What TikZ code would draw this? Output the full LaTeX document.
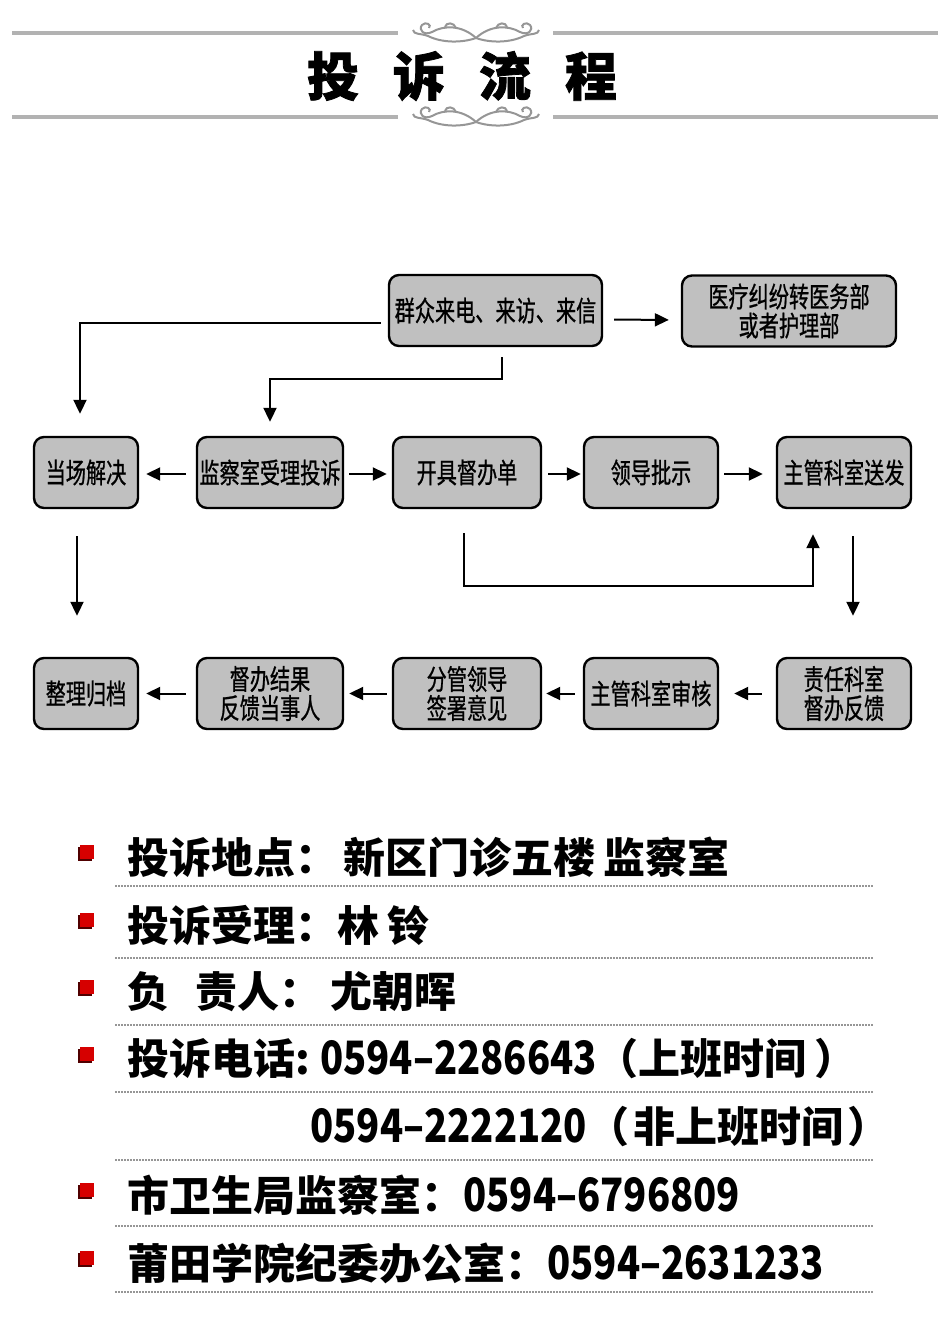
\documentclass[tikz,border=0pt]{standalone}
\usepackage{fontspec}
\usetikzlibrary{positioning,arrows.meta,shadows}

\newfontfamily\boxfont{Noto Sans CJK SC}[FakeStretch=0.72, FakeBold=0.8]
\newfontfamily\listfont{Noto Sans CJK SC}
\newfontfamily\numfont{Noto Sans CJK SC}[FakeStretch=0.83]
\newfontfamily\titlefont{Noto Sans CJK SC}[FakeBold=1.5]
\newcommand{\phone}[1]{{\numfont\bfseries\fontsize{23pt}{23pt}\selectfont #1}}

\definecolor{boxgray}{RGB}{192,192,192}
\definecolor{rulegray}{RGB}{178,178,178}
\definecolor{orngray}{RGB}{150,150,150}
\definecolor{dotgray}{RGB}{150,150,150}
\definecolor{bulletred}{RGB}{214,0,0}
\definecolor{bulletdark}{RGB}{80,0,0}

\tikzset{
  flowbox/.style={draw, line width=1.2pt, fill=boxgray, rounded corners=5pt,
    minimum height=35.5pt, inner sep=0pt, align=center,
    font=\boxfont\fontsize{14pt}{14.5pt}\selectfont},
  flowarrow/.style={line width=1pt, -{Triangle[length=7pt,width=6.5pt]}},
  rule/.style={rulegray, line width=2pt},
  orn/.style={orngray, line width=1pt},
  dotrule/.style={dotgray, line width=1.2pt, dash pattern=on 0.8pt off 0.7pt},
  bullet/.style={fill=bulletred, minimum size=7pt, inner sep=0pt,
    drop shadow={shadow xshift=-0.8pt, shadow yshift=-0.8pt, fill=bulletdark, opacity=1}},
  listline/.style={anchor=west, inner sep=0pt,
    font=\listfont\bfseries\fontsize{21pt}{21pt}\selectfont}
}

\newcommand{\titleorn}[1]{%
  \begin{scope}[shift={#1}]
    \foreach \s in {1,-1} {
      \begin{scope}[xscale=\s]
        \draw[orn] (0,5) .. controls (-14,-8) and (-32,-8) .. (-44,-1)
          .. controls (-52,3) and (-58,-3) .. (-54,-8)
          .. controls (-50,-12) and (-44,-8) .. (-47,-5);
        \draw[orn] (0,5) .. controls (-14,10) and (-34,10) .. (-48,3)
          .. controls (-56,0) and (-62,2) .. (-63,-3);
        \draw[orn] (-20,-5) .. controls (-22,-11) and (-30,-11) .. (-31,-6);
      \end{scope}
    }
  \end{scope}}

\begin{document}
\begin{tikzpicture}[x=0.5pt, y=-0.5pt]
    \path[use as bounding box, fill=white] (0,0) rectangle (950,1318);

    % Title with rules
    \draw[rule] (12,33) -- (398,33);
    \draw[rule] (553,33) -- (938,33);
    \draw[rule] (12,117) -- (398,117);
    \draw[rule] (553,117) -- (938,117);
    \titleorn{(476,33)}
    \titleorn{(476,117)}
    \node[font=\titlefont\bfseries\fontsize{26pt}{26pt}\selectfont] (title) at (462,76)
      {投\hspace{17pt}诉\hspace{17pt}流\hspace{17pt}程};

    % Boxes
    \foreach \name/\x/\y/\w/\txt in {
      qz/495.5/310.5/106.5/{群众来电、来访、来信},
      yl/789/311/107/{医疗纠纷转医务部\\或者护理部},
      dc/86/472.5/52/{当场解决},
      jc/270/472.5/73/{监察室受理投诉},
      kj/467/472.5/74/{开具督办单},
      ld/651/472.5/67/{领导批示},
      zs/844/472.5/67/{主管科室送发},
      zl/86/693.5/52/{整理归档},
      db/270/693.5/73/{督办结果\\反馈当事人},
      fg/467/693.5/74/{分管领导\\签署意见},
      zh/651/693.5/67/{主管科室审核},
      zr/844/693.5/67/{责任科室\\督办反馈}} {
      \node[flowbox, minimum width=\w pt] (\name) at (\x,\y) {\txt};
    }

    % Arrows from the first box
    \draw[flowarrow, shorten <=5.5pt, shorten >=6pt] ([yshift=-4.5pt]qz.east) -- ([yshift=-4.5pt]yl.west);
    \draw[flowarrow, shorten <=3.5pt, shorten >=11pt] ([yshift=-6pt]qz.west) -| ([xshift=-3pt]dc.north);
    \draw[flowarrow, shorten <=5pt, shorten >=7pt] ([xshift=3.25pt]qz.south) -- ++(0,-16pt) -| (jc.north);

    % Middle row
    \draw[flowarrow, shorten <=5pt, shorten >=3.5pt] ([yshift=-0.75pt]jc.west) -- ([yshift=-0.75pt]dc.east);
    \draw[flowarrow, shorten <=2.5pt, shorten >=2.5pt] ([yshift=-0.75pt]jc.east) -- ([yshift=-0.75pt]kj.west);
    \draw[flowarrow, shorten <=3pt, shorten >=1pt] ([yshift=-0.75pt]kj.east) -- ([yshift=-0.75pt]ld.west);
    \draw[flowarrow, shorten <=2.5pt, shorten >=6.5pt] ([yshift=-0.75pt]ld.east) -- ([yshift=-0.75pt]zs.west);

    % Down and back
    \draw[flowarrow, shorten <=13.5pt, shorten >=20.5pt] ([xshift=-4.5pt]dc.south) -- ([xshift=-4.5pt]zl.north);
    \draw[flowarrow, shorten <=12pt, shorten >=12.5pt] ([xshift=-1.5pt]kj.south) -- ++(0,-38.5pt) -| ([xshift=-15.5pt]zs.south);
    \draw[flowarrow, shorten <=13.5pt, shorten >=20.5pt] ([xshift=4.5pt]zs.south) -- ([xshift=4.5pt]zr.north);

    % Bottom row
    \draw[flowarrow, shorten <=7pt, shorten >=7.5pt] (zr.west) -- (zh.east);
    \draw[flowarrow, shorten <=4pt, shorten >=2pt] (zh.west) -- (fg.east);
    \draw[flowarrow, shorten <=2.5pt, shorten >=2.5pt] (fg.west) -- (db.east);
    \draw[flowarrow, shorten <=5pt, shorten >=3.5pt] (db.west) -- (zl.east);

    % Contact list
    \foreach \i/\y/\r/\txt in {
      1/857/886/{投诉地点：\hspace{3pt}新区门诊五楼\hspace{4pt}监察室},
      2/925/958/{投诉受理：林\hspace{4pt}铃},
      3/992/1025/{负\hspace{13pt}责人：\hspace{4.5pt}尤朝晖},
      4/1059/1092/{投诉电话:\hspace{5pt}\phone{0594–2286643}（上班时间\hspace{4pt}）},
      6/1195/1226/{市卫生局监察室：\phone{0594–6796809}},
      7/1263/1292/{莆田学院纪委办公室：\phone{0594–2631233}}} {
      \node[bullet] (b\i) at (87,\y-5) {};
      \node[listline] (l\i) at (127,\y) {\txt};
      \draw[dotrule] (115,\r) -- (873,\r);
    }
    \node[listline] (l5) at (310,1127) {\phone{0594–2222120}（\hspace{2pt}非上班时间\hspace{2pt}）};
    \draw[dotrule] (115,1160) -- (873,1160);

\end{tikzpicture}
\end{document}
